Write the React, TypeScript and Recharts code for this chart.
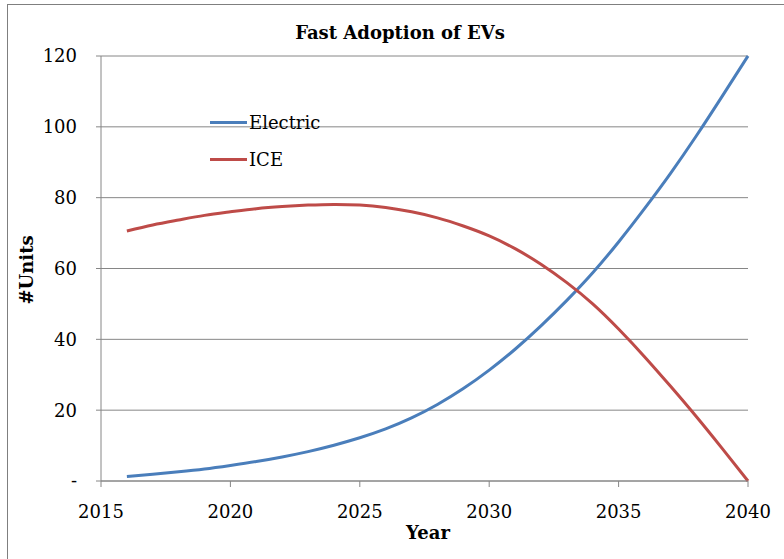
import { CartesianGrid, Legend, Line, LineChart, XAxis, YAxis } from "recharts";

const years = [
  2016, 2017, 2018, 2019, 2020, 2021, 2022, 2023, 2024, 2025, 2026, 2027, 2028,
  2029, 2030, 2031, 2032, 2033, 2034, 2035, 2036, 2037, 2038, 2039, 2040,
];
const electric = [
  1.3, 1.9, 2.6, 3.4, 4.4, 5.5, 6.8, 8.3, 10.1, 12.2, 14.7, 17.8, 21.6, 26.1,
  31.3, 37.2, 43.8, 51.0, 58.8, 67.5, 76.9, 86.8, 97.4, 108.6, 120,
];
const ice = [
  70.6, 72.3, 73.7, 75.0, 76.0, 76.9, 77.5, 77.9, 78.1, 77.9, 77.2, 76.0, 74.3,
  72.0, 69.2, 65.6, 61.2, 56.0, 50.0, 42.9, 35.1, 26.8, 18.2, 9.2, 0,
];
const xTicks = [2015, 2020, 2025, 2030, 2035, 2040];
const yTicks = [0, 20, 40, 60, 80, 100, 120];

const data = years.map((year, i) => ({ year, Electric: electric[i], ICE: ice[i] }));

const FONT = "'DejaVu Serif', serif";
const BLUE = "#4a7ebb";
const RED = "#be4b48";
const AXIS = "#868686";

function LegendBox() {
  const items = [
    { name: "Electric", color: BLUE },
    { name: "ICE", color: RED },
  ];
  return (
    <div style={{ fontFamily: FONT, fontSize: 18, color: "#000" }}>
      {items.map((it) => (
        <div key={it.name} style={{ display: "flex", alignItems: "center", height: 37 }}>
          <span style={{ display: "inline-block", width: 37, height: 3, background: it.color, marginRight: 2 }} />
          <span>{it.name}</span>
        </div>
      ))}
    </div>
  );
}

export default function App() {
  return (
    <div
      style={{
        position: "absolute",
        left: 0,
        top: 0,
        width: 784,
        height: 559,
        overflow: "hidden",
        background: "#fff",
      }}
    >
      <div
        style={{
          position: "absolute",
          left: 7,
          top: 4,
          width: 820,
          height: 600,
          border: "1px solid #7f7f7f",
        }}
      />
      <div
        style={{
          position: "absolute",
          left: 0,
          width: 800,
          top: 22,
          textAlign: "center",
          fontFamily: FONT,
          fontWeight: "bold",
          fontSize: 18,
        }}
      >
        Fast Adoption of EVs
      </div>
      <div
        style={{
          position: "absolute",
          left: 428 - 50,
          width: 100,
          top: 522,
          textAlign: "center",
          fontFamily: FONT,
          fontWeight: "bold",
          fontSize: 18,
        }}
      >
        Year
      </div>
      <div
        style={{
          position: "absolute",
          left: 27 - 50,
          top: 270 - 12,
          width: 100,
          height: 24,
          lineHeight: "24px",
          textAlign: "center",
          transform: "rotate(-90deg)",
          fontFamily: FONT,
          fontWeight: "bold",
          fontSize: 18,
        }}
      >
        #Units
      </div>
      <div style={{ position: "absolute", left: 0, top: 0 }}>
        <LineChart
          width={784}
          height={559}
          data={data}
          margin={{ top: 56, right: 36, bottom: 0, left: 0 }}
        >
          <CartesianGrid vertical={false} stroke={AXIS} strokeWidth={1} />
          <XAxis
            dataKey="year"
            type="number"
            domain={[2015, 2040]}
            ticks={xTicks}
            interval={0}
            height={78}
            stroke={AXIS}
            tickSize={6}
            tickMargin={18}
            tick={{ fill: "#000", fontSize: 18, fontFamily: FONT }}
          />
          <YAxis
            type="number"
            domain={[0, 120]}
            ticks={yTicks}
            interval={0}
            width={101}
            stroke={AXIS}
            tickSize={5}
            tickMargin={19}
            tick={{ fill: "#000", fontSize: 18, fontFamily: FONT }}
            tickFormatter={(v: number) => (v === 0 ? "-" : String(v))}
          />
          <Legend
            layout="horizontal"
            verticalAlign="middle"
            align="center"
            wrapperStyle={{ left: 210, top: 104, width: 140, height: 74 }}
            content={() => <LegendBox />}
          />
          <Line
            type="natural"
            dataKey="Electric"
            stroke={BLUE}
            strokeWidth={3}
            dot={false}
            isAnimationActive={false}
          />
          <Line
            type="natural"
            dataKey="ICE"
            stroke={RED}
            strokeWidth={3}
            dot={false}
            isAnimationActive={false}
          />
        </LineChart>
      </div>
    </div>
  );
}
